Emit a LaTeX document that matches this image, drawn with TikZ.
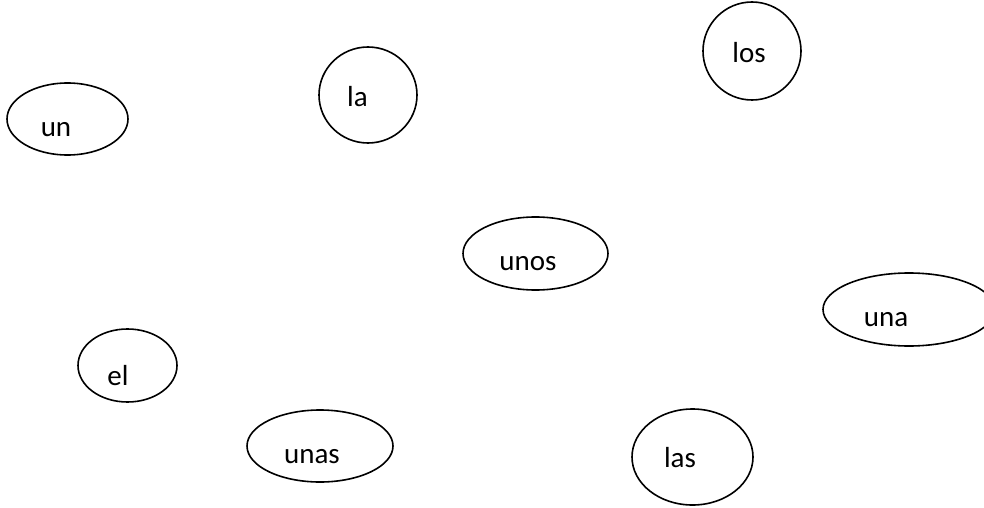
\documentclass[tikz,border=0pt]{standalone}
\usepackage{fontspec}
\setmainfont{Carlito}
\usetikzlibrary{shapes.geometric}

\tikzset{
  article/.style={draw, ellipse, line width=1.6pt, inner sep=0pt},
  word/.style={font=\fontsize{29}{34}\selectfont, anchor=base, inner sep=0pt},
}

\begin{document}
\begin{tikzpicture}[x=1pt,y=-1pt]
\useasboundingbox (0,0) rectangle (984,508);

\node[article, minimum width=121, minimum height=72,
      label={[word, xshift=-11.5pt, yshift=-11pt]center:un}] (un) at (67.5,119) {};
\node[article, minimum width=98, minimum height=96,
      label={[word, xshift=-10.5pt, yshift=-2pt]center:la}] (la) at (368,95) {};
\node[article, minimum width=98, minimum height=98,
      label={[word, xshift=-3pt, yshift=-2pt]center:los}] (los) at (752,51) {};
\node[article, minimum width=145, minimum height=73,
      label={[word, xshift=-7.5pt, yshift=-10.5pt]center:unos}] (unos) at (535.5,253.5) {};
\node[article, minimum width=172, minimum height=73,
      label={[word, xshift=-23pt, yshift=-10.5pt]center:una}] (una) at (909,309.5) {};
\node[article, minimum width=99, minimum height=73,
      label={[word, xshift=-9.5pt, yshift=-10.5pt]center:el}] (el) at (127.5,365.5) {};
\node[article, minimum width=146, minimum height=72,
      label={[word, xshift=-8pt, yshift=-11pt]center:unas}] (unas) at (320,446) {};
\node[article, minimum width=121, minimum height=96,
      label={[word, xshift=-12.5pt, yshift=-1pt]center:las}] (las) at (692.5,457) {};
\end{tikzpicture}
\end{document}
